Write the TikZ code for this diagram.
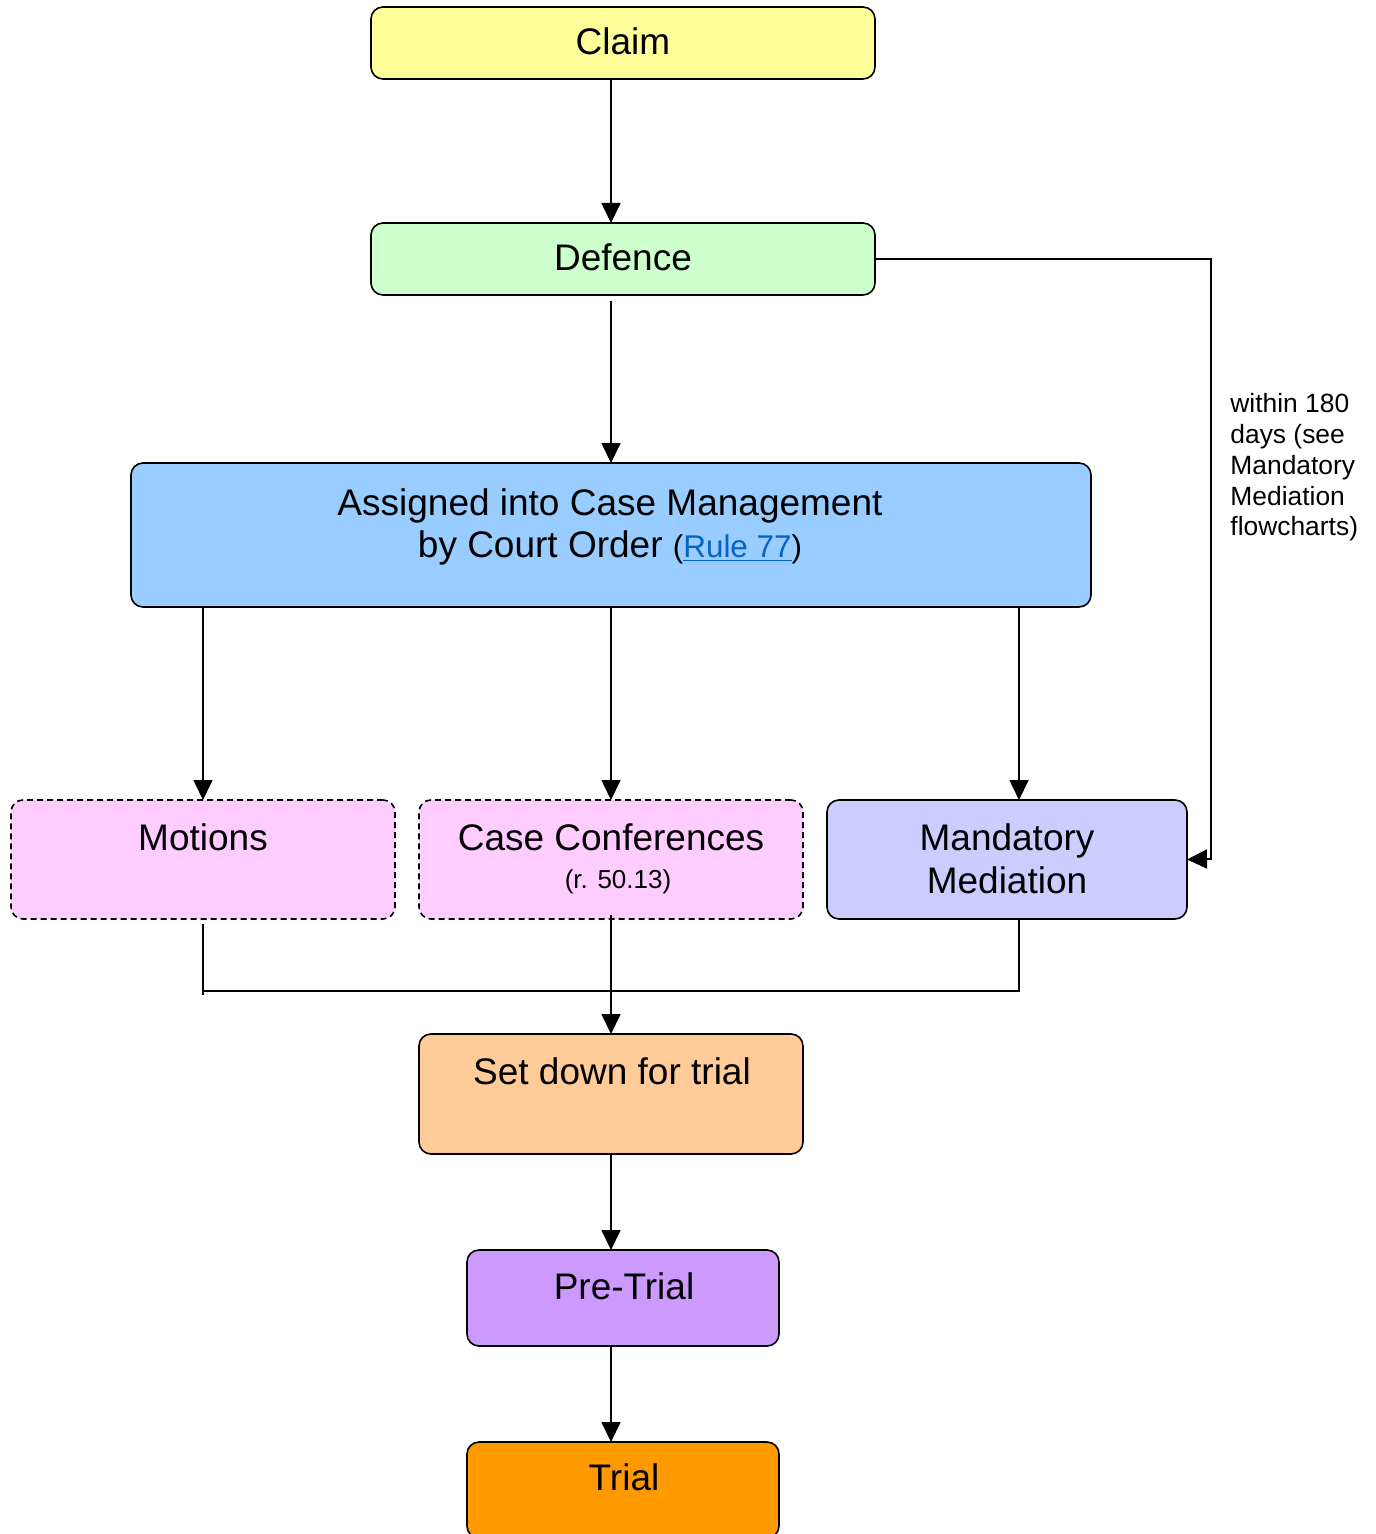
\documentclass[tikz,border=0pt]{standalone}
\usepackage{fontspec}
\setmainfont{Liberation Sans}
\usetikzlibrary{arrows.meta}
\definecolor{claimc}{HTML}{FFFF99}
\definecolor{defc}{HTML}{CCFFCC}
\definecolor{assc}{HTML}{99CCFF}
\definecolor{pinkc}{HTML}{FFCCFF}
\definecolor{medc}{HTML}{CCCCFF}
\definecolor{setc}{HTML}{FFCC99}
\definecolor{prec}{HTML}{CC99FF}
\definecolor{trialc}{HTML}{FF9900}
\definecolor{linkc}{HTML}{0563C1}
\begin{document}
\begin{tikzpicture}[x=0.5pt,y=-0.5pt,
  box/.style={draw, rounded corners=6pt, line width=0.8pt, anchor=north west, inner sep=0pt, outer sep=0pt},
  dbox/.style={box, dash pattern=on 3pt off 2pt},
  txt/.style={anchor=base, inner sep=0pt, font=\fontsize{18.5}{22}\selectfont},
  small/.style={anchor=base, inner sep=0pt, font=\fontsize{13}{15}\selectfont},
  side/.style={anchor=base west, inner sep=0pt, font=\fontsize{13.2}{15.3}\selectfont},
  arr/.style={line width=0.85pt, -{Triangle[width=9.5pt,length=10pt]}},
  ln/.style={line width=0.85pt}]
\useasboundingbox (0,0) rectangle (1375,1534);
% boxes
\node[box, fill=claimc, minimum width=252pt, minimum height=36pt] (claim) at (371,7) {};
\node[box, fill=defc, minimum width=252pt, minimum height=36pt] (def) at (371,223) {};
\node[box, fill=assc, minimum width=480pt, minimum height=72pt] (ass) at (131,463) {};
\node[dbox, fill=pinkc, minimum width=192pt, minimum height=59.5pt] (mot) at (11,800) {};
\node[dbox, fill=pinkc, minimum width=192pt, minimum height=59.5pt] (cc) at (419,800) {};
\node[box, fill=medc, minimum width=180pt, minimum height=59.5pt] (med) at (827,800) {};
\node[box, fill=setc, minimum width=192pt, minimum height=60pt] (set) at (419,1034) {};
\node[box, fill=prec, minimum width=156pt, minimum height=48pt] (pre) at (467,1250) {};
\node[box, fill=trialc, minimum width=156pt, minimum height=48pt] (trial) at (467,1442) {};
% texts
\node[txt] (tclaim) at (623,55) {Claim};
\node[txt] (tdef) at (623,271) {Defence};
\node[txt] (tass1) at (610,515) {Assigned into Case Management};
\node[txt] (tass2) at (610,557) {by Court Order {\fontsize{15.7}{18}\selectfont(\textcolor{linkc}{\underline{Rule 77}})}};
\node[txt] (tmot) at (203,850) {Motions};
\node[txt] (tcc) at (611,850) {Case Conferences};
\node[small] (tcc2) at (618,888) {(r. 50.13)};
\node[txt] (tmed1) at (1007,850) {Mandatory};
\node[txt] (tmed2) at (1007,893) {Mediation};
\node[txt] (tset) at (612,1084) {Set down for trial};
\node[txt] (tpre) at (624,1299) {Pre-Trial};
\node[txt] (ttrial) at (624,1490) {Trial};
\node[side] (lab) at (1230,413) {within 180};
\node[side] (lab2) at (1230,444) {days (see};
\node[side] (lab3) at (1230,474) {Mandatory};
\node[side] (lab4) at (1230,505) {Mediation};
\node[side] (lab5) at (1230,535) {flowcharts)};
% helper coordinates
\coordinate (ax) at (611,0);
\coordinate (mx) at (203,0);
\coordinate (rx) at (1019,0);
\coordinate (c1) at (1211,859);
\coordinate (m1) at (203,995);
\coordinate (j1) at (203,991);
\coordinate (j2) at (1019,991);
% connectors
\draw[arr] (claim.south -| ax) -- (def.north -| ax);
\draw[arr, shorten <=3pt] (def.south -| ax) -- (ass.north -| ax);
\draw[arr] (ass.south -| mx) -- (mot.north -| mx);
\draw[arr] (ass.south -| ax) -- (cc.north -| ax);
\draw[arr] (ass.south -| rx) -- (med.north -| rx);
\draw[arr] (def.east) -| (c1) -- (med.east);
\draw[ln, shorten <=2.5pt] (mot.south -| mx) -- (m1);
\draw[ln] (j1) -- (j2) -- (med.south -| rx);
\draw[arr, shorten <=-2pt] (cc.south -| ax) -- (set.north -| ax);
\draw[arr] (set.south -| ax) -- (pre.north -| ax);
\draw[arr] (pre.south -| ax) -- (trial.north -| ax);
\end{tikzpicture}
\end{document}
